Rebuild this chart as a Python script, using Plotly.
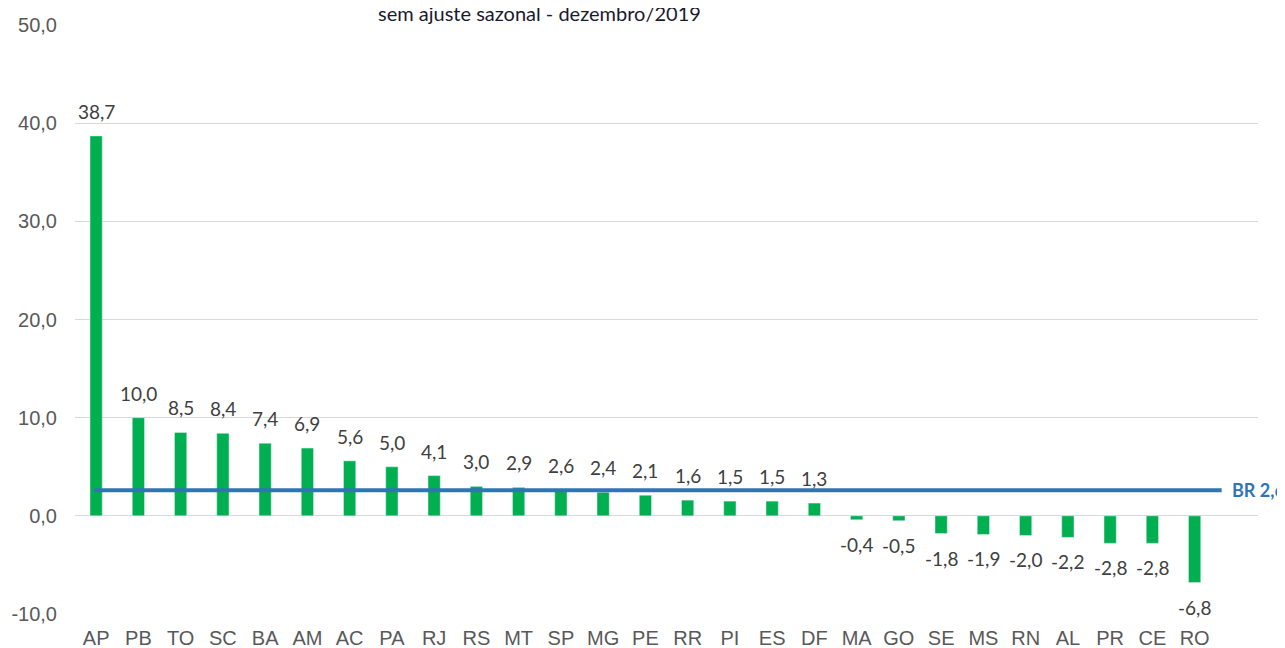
import plotly.graph_objects as go

states = ["AP", "PB", "TO", "SC", "BA", "AM", "AC", "PA", "RJ", "RS", "MT", "SP", "MG",
          "PE", "RR", "PI", "ES", "DF", "MA", "GO", "SE", "MS", "RN", "AL", "PR", "CE", "RO"]
values = [38.7, 10.0, 8.5, 8.4, 7.4, 6.9, 5.6, 5.0, 4.1, 3.0, 2.9, 2.6, 2.4,
          2.1, 1.6, 1.5, 1.5, 1.3, -0.4, -0.5, -1.8, -1.9, -2.0, -2.2, -2.8, -2.8, -6.8]
br_value = 2.6
title_text = "sem ajuste sazonal - dezembro/2019"
yticks = [-10, 0, 10, 20, 30, 40, 50]

n = len(states)
xs = list(range(n))

def fmt(v):
    return f"{v:.1f}".replace(".", ",")

fig = go.Figure()
fig.add_trace(go.Bar(x=xs, y=values, marker_color="#00B050", width=0.29,
                     showlegend=False, hoverinfo="x+y"))

label_font = dict(family="Lato, Noto Sans, sans-serif", size=19, color="#404040")
annotations = []
for x, v in zip(xs, values):
    annotations.append(dict(
        x=x, y=v, xref="x", yref="y", text=fmt(v), showarrow=False,
        yanchor="bottom" if v >= 0 else "top",
        yshift=11 if v >= 0 else -11,
        font=label_font,
    ))

annotations.append(dict(
    x=n - 1 + 0.64, y=br_value, xref="x", yref="y", text="<b>BR " + fmt(br_value) + "</b>",
    showarrow=False, xanchor="left", xshift=8,
    font=dict(family="Lato, Noto Sans, sans-serif", size=18, color="#2E75B6"),
))
annotations.append(dict(
    x=0.393, y=1.0424, xref="paper", yref="paper", text=title_text, showarrow=False,
    xanchor="center", yanchor="top", borderpad=0,
    font=dict(family="Lato, Noto Sans, sans-serif", size=20, color="#1A1A2E"),
))

fig.add_shape(type="line", xref="x", yref="y", x0=-0.05, x1=n - 1 + 0.64,
              y0=br_value, y1=br_value, line=dict(color="#2E75B6", width=4))

tick_font = dict(family="Liberation Sans, Arial, sans-serif", size=20, color="#595959")
fig.update_layout(
    width=1277, height=640,
    margin=dict(l=67, r=27, t=17, b=34),
    plot_bgcolor="white", paper_bgcolor="white",
    separators=",.",
    annotations=annotations,
    xaxis=dict(range=[-0.5, n - 0.5 + 1], tickvals=xs, ticktext=states,
               showgrid=False, zeroline=False, showline=False, ticks="",
               ticklabelstandoff=10, tickfont=tick_font, automargin=False),
    yaxis=dict(range=[-10, 50], tickvals=yticks, ticktext=[fmt(t) for t in yticks],
               showgrid=True, gridcolor="#D9D9D9", gridwidth=1,
               zeroline=True, zerolinecolor="#D9D9D9", zerolinewidth=1,
               showline=False, ticks="", ticklabelstandoff=17,
               tickfont=tick_font, automargin=False),
)

fig.write_html("out.html")
